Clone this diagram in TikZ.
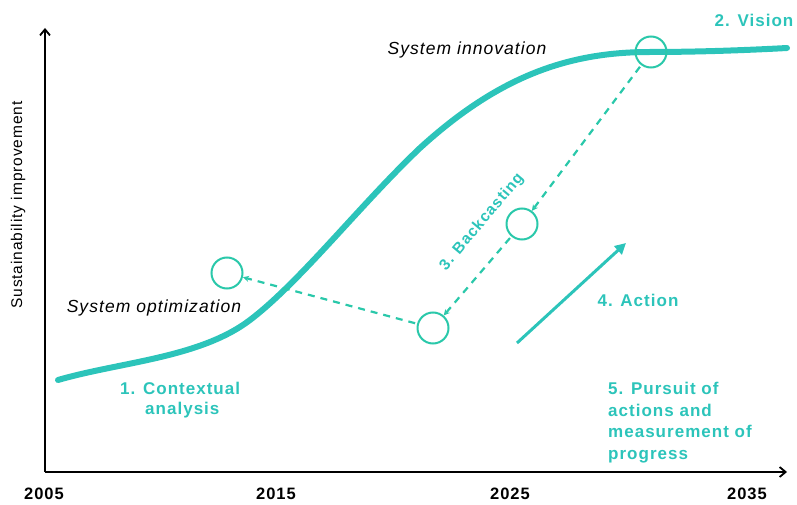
\documentclass[tikz,border=0pt]{standalone}
\usepackage{fontspec}
\setmainfont{Liberation Sans}
\newfontfamily\spaced[LetterSpace=6]{Liberation Sans}
\usetikzlibrary{arrows.meta}
\definecolor{teal1}{RGB}{44,196,186}
\definecolor{teal2}{RGB}{42,200,170}
\tikzset{
  mark circle/.style={circle,draw=teal2,line width=2pt,minimum size=31pt,inner sep=0pt},
  dashlink/.style={draw=teal2,line width=2.2pt,dash pattern=on 7pt off 6pt,shorten <=2pt,-{Stealth[length=6pt,width=6pt]}},
  tealtext/.style={text=teal1,font=\spaced\bfseries\fontsize{17}{21.5}\selectfont,align=left},
  blacktext/.style={font=\spaced\itshape\fontsize{17.5}{19}\selectfont},
  year/.style={font=\spaced\bfseries\fontsize{16.5}{18}\selectfont},
  axis/.style={line width=1.8pt,-{Straight Barb[length=6pt,width=10pt]}}
}
\begin{document}
\begin{tikzpicture}[x=1pt,y=-1pt]
\useasboundingbox (0,0) rectangle (797,505);
\coordinate (O) at (45,472);
\coordinate (Ytop) at (45,28);
\coordinate (Xend) at (787,472);
\draw[axis] (O) -- (Ytop);
\draw[axis] (O) -- (Xend);
\node[rotate=90,font=\spaced\fontsize{15.5}{17}\selectfont] (ylab) at (18,205) {Sustainability improvement};
\node[year] (y2005) at (44,494) {2005};
\node[year] (y2015) at (276,494) {2015};
\node[year] (y2025) at (510,494) {2025};
\node[year] (y2035) at (747,494) {2035};
% curve
\draw[teal1,line width=6pt,line cap=round] (58,380) .. controls (120,362) and (200,358) .. (250,320)
  .. controls (300,282) and (360,205) .. (420,148)
  .. controls (500,75) and (570,52) .. (650,52)
  .. controls (700,52) and (750,50) .. (787,48);
% circles
\node[mark circle] (cL) at (227,273) {};
\node[mark circle] (cB) at (433,328) {};
\node[mark circle] (cM) at (522,224) {};
\node[mark circle] (cV) at (651,52) {};
\draw[dashlink] (cV) -- (cM);
\draw[dashlink] (cM) -- (cB);
\draw[dashlink] (cB) -- (cL);
% action arrow
\coordinate (a1) at (517,343);
\coordinate (a2) at (626,243);
\draw[teal1,line width=3pt,-{Triangle[length=11pt,width=11pt]}] (a1) -- (a2);
% texts
\node[blacktext] (sinn) at (467,50) {System innovation};
\node[blacktext] (sopt) at (154,308) {System optimization};
\node[tealtext,anchor=north west,inner sep=0pt] (t1) at (120,382) {1. Contextual};
\node[tealtext,anchor=north west,inner sep=0pt] (t1b) at (145,402) {analysis};
\node[tealtext] (t2) at (754,20) {2. Vision};
\node[tealtext,rotate=50,font=\spaced\bfseries\fontsize{15.5}{18}\selectfont] (t3) at (482,222) {3. Backcasting};
\node[tealtext] (t4) at (638,300) {4. Action};
\node[tealtext,anchor=north west,inner sep=0pt] (t5) at (608,382) {5. Pursuit of\\actions and\\measurement of\\progress};
\end{tikzpicture}
\end{document}
